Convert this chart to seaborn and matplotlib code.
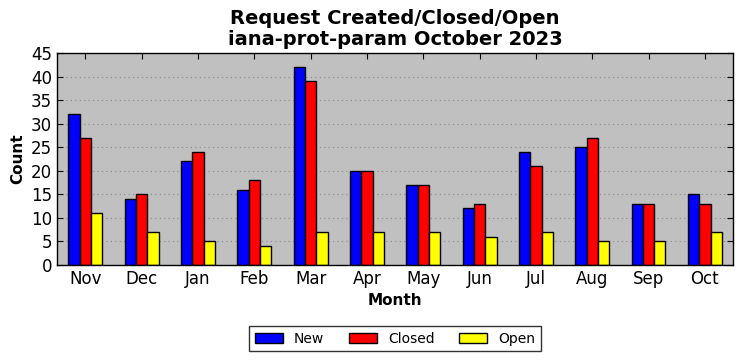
import matplotlib
matplotlib.use('Agg')
import matplotlib.pyplot as plt
import pandas as pd
import seaborn as sns

# Data
months = ['Nov', 'Dec', 'Jan', 'Feb', 'Mar', 'Apr', 'May', 'Jun', 'Jul', 'Aug', 'Sep', 'Oct']
new = [32, 14, 22, 16, 42, 20, 17, 12, 24, 25, 13, 15]
closed = [27, 15, 24, 18, 39, 20, 17, 13, 21, 27, 13, 13]
opened = [11, 7, 5, 4, 7, 7, 7, 6, 7, 5, 5, 7]

df = pd.DataFrame({'Month': months, 'New': new, 'Closed': closed, 'Open': opened})
df_long = df.melt(id_vars='Month', var_name='Type', value_name='Count')

sns.set_style('ticks')
plt.rcParams['font.family'] = ['DejaVu Sans']
plt.rcParams['text.color'] = 'black'
plt.rcParams['axes.labelcolor'] = 'black'
plt.rcParams['xtick.color'] = 'black'
plt.rcParams['ytick.color'] = 'black'

fig, ax = plt.subplots(figsize=(7.42, 3.61), dpi=100)
sns.barplot(data=df_long, x='Month', y='Count', hue='Type', order=months,
            hue_order=['New', 'Closed', 'Open'],
            palette=['#0000ff', '#ff0000', '#ffff00'], width=0.6,
            edgecolor='black', linewidth=1, saturation=1, ax=ax)

ax.set_facecolor('#c0c0c0')
ax.set_xlim(-0.5, 11.5)
ax.set_ylim(0, 45)
ax.set_yticks(range(0, 46, 5))
ax.yaxis.grid(True, linestyle=(0, (1, 3)), color='#888888', linewidth=0.8)
ax.set_axisbelow(True)
for s in ax.spines.values():
    s.set_visible(True)
    s.set_color('black')
    s.set_linewidth(1)
ax.tick_params(direction='in', top=True, right=True, labelsize=12, length=4)

ax.set_title('Request Created/Closed/Open\niana-prot-param October 2023',
             fontsize=14, fontweight='bold', linespacing=1.1, color='black')
ax.set_xlabel('Month', fontsize=11, fontweight='bold')
ax.set_ylabel('Count', fontsize=11, fontweight='bold')

leg = ax.legend(loc='upper center', bbox_to_anchor=(0.5, -0.255), ncol=3,
                fontsize=10, frameon=True, fancybox=False, edgecolor='black',
                handlelength=2.0, columnspacing=1.8, handletextpad=0.8,
                borderpad=0.4)
leg.get_frame().set_linewidth(1)

fig.subplots_adjust(left=0.077, right=0.988, top=0.853, bottom=0.266)
fig.savefig('out.png', dpi=100)
